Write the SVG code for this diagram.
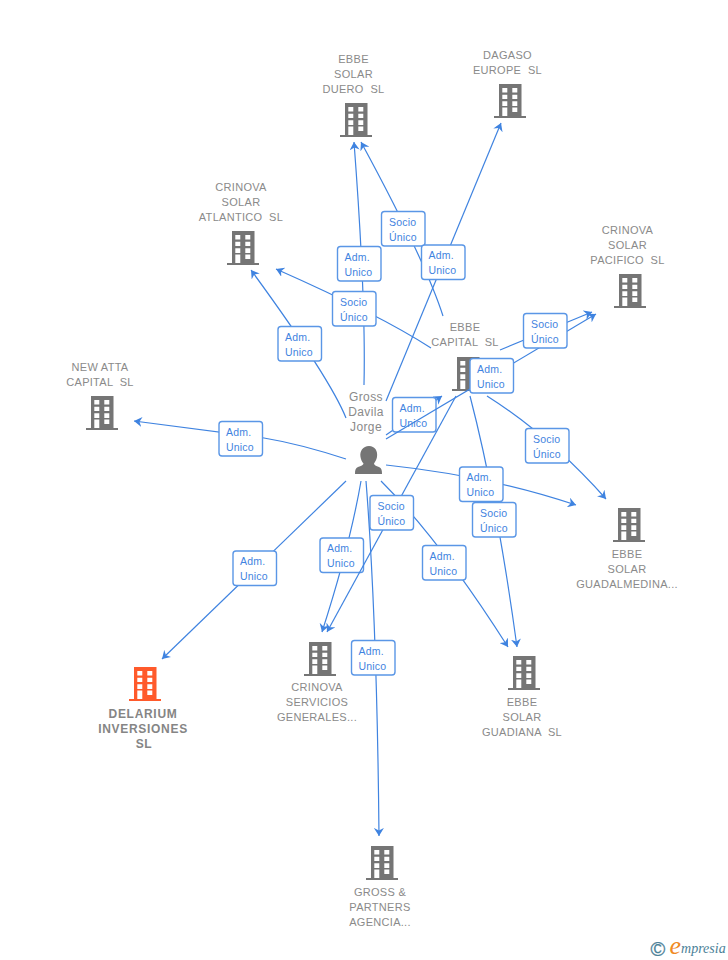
<svg xmlns="http://www.w3.org/2000/svg" width="728" height="960" viewBox="0 0 728 960">
<style>
text{font-family:"Liberation Sans",Arial,sans-serif;white-space:pre}
.n{font-size:11px;fill:#8a8a8a;text-anchor:middle;letter-spacing:.3px}
.b{font-weight:bold;font-size:12px;fill:#858585;letter-spacing:.7px}
.p{font-size:12px;letter-spacing:.4px}
.l{fill:none;stroke:#3f83e0;stroke-width:1.2;marker-end:url(#a)}
.t{fill:#fff;stroke:#5a96e6;stroke-width:1.4}
.x{font-size:10.5px;fill:#3f83e0;letter-spacing:.2px}
</style>
<defs>
<marker id="a" markerUnits="userSpaceOnUse" markerWidth="8" markerHeight="10" refX="8" refY="5" orient="auto" viewBox="0 0 8 10"><path d="M0,0L8,5L0,10L2.500,5z" fill="#3f83e0"/></marker>
<path id="i" fill-rule="evenodd" d="M5,0H27.5V32H32V34H0V32H5ZM8.3,4V8.5H13.3V4ZM18.3,4V8.5H23.3V4ZM8.3,10.7V15H13.3V10.7ZM18.3,10.7V15H23.3V10.7ZM8.3,17.3V22H13.3V17.3ZM18.3,17.3V22H23.3V17.3ZM8.3,23.5V32H13.3V23.5ZM18.3,23.5V28H23.3V23.5Z"/>
</defs>
<g id="n-duero" fill="#757575"><text class="n" x="353.500" y="63">EBBE</text><text class="n" x="353.500" y="78">SOLAR</text><text class="n" x="353.500" y="93">DUERO  SL</text><use href="#i" x="340" y="103"/></g>
<g id="n-dagaso" fill="#757575"><text class="n" x="507.500" y="59">DAGASO</text><text class="n" x="507.500" y="74">EUROPE  SL</text><use href="#i" x="494" y="84"/></g>
<g id="n-atlantico" fill="#757575"><text class="n" x="241" y="191">CRINOVA</text><text class="n" x="241" y="206">SOLAR</text><text class="n" x="241" y="221">ATLANTICO  SL</text><use href="#i" x="227" y="231"/></g>
<g id="n-pacifico" fill="#757575"><text class="n" x="627.500" y="234">CRINOVA</text><text class="n" x="627.500" y="249">SOLAR</text><text class="n" x="627.500" y="264">PACIFICO  SL</text><use href="#i" x="614" y="274"/></g>
<g id="n-capital" fill="#757575"><text class="n" x="465" y="331">EBBE</text><text class="n" x="465" y="346">CAPITAL  SL</text><use href="#i" x="452" y="357"/></g>
<g id="n-newatta" fill="#757575"><text class="n" x="100" y="371">NEW ATTA</text><text class="n" x="100" y="386">CAPITAL  SL</text><use href="#i" x="86" y="396"/></g>
<g id="n-guadalmedina" fill="#757575"><use href="#i" x="613" y="508"/><text class="n" x="627" y="558">EBBE</text><text class="n" x="627" y="573">SOLAR</text><text class="n" x="627" y="588">GUADALMEDINA...</text></g>
<g id="n-delarium" fill="#ff5a2b"><use href="#i" x="129" y="667"/><text class="n b" x="143" y="718">DELARIUM</text><text class="n b" x="143" y="733">INVERSIONES</text><text class="n b" x="144" y="748">SL</text></g>
<g id="n-servicios" fill="#757575"><use href="#i" x="304" y="642"/><text class="n" x="317" y="691">CRINOVA</text><text class="n" x="317" y="706">SERVICIOS</text><text class="n" x="317" y="721">GENERALES...</text></g>
<g id="n-guadiana" fill="#757575"><use href="#i" x="508" y="656"/><text class="n" x="522" y="706">EBBE</text><text class="n" x="522" y="721">SOLAR</text><text class="n" x="522" y="736">GUADIANA  SL</text></g>
<g id="n-partners" fill="#757575"><use href="#i" x="366" y="846"/><text class="n" x="380" y="896">GROSS &amp;</text><text class="n" x="380" y="911">PARTNERS</text><text class="n" x="380" y="926">AGENCIA...</text></g>
<g id="n-gross"><text class="n p" x="366" y="401">Gross</text><text class="n p" x="366" y="416">Davila</text><text class="n p" x="366" y="431">Jorge</text><path fill="#757575" d="M369,446C375,446 378,451 377,457C376.500,460 375,462 374,463.500C374,465 376,466 379,467C381.500,468 382,470 382,474H355C355,470 355.500,468 358,467C361,466 363.500,465 363.500,463.500C362,462 361,460 360.500,457C359.500,451 363,446 369,446Z"/></g>
<g id="connectors">
<path class="l" d="M346,459Q300,444 264,438L134,421"/>
<rect class="t" x="219" y="421.500" width="43.500" height="34.500" rx="3"/><text class="x" x="226" y="435.500">Adm.</text><text class="x" x="226" y="450.500">Unico</text>
<path class="l" d="M346,418Q330,378 251,270"/>
<rect class="t" x="278" y="326.500" width="43.500" height="34.500" rx="3"/><text class="x" x="285" y="340.500">Adm.</text><text class="x" x="285" y="355.500">Unico</text>
<path class="l" d="M364,385Q366,300 354,142"/>
<rect class="t" x="337.500" y="246.500" width="43.500" height="34.500" rx="3"/><text class="x" x="344.500" y="260.500">Adm.</text><text class="x" x="344.500" y="275.500">Unico</text>
<path class="l" d="M443,316Q425,260 361,142"/>
<rect class="t" x="381.500" y="211.500" width="43.500" height="34.500" rx="3"/><text class="x" x="389" y="225.500">Socio</text><text class="x" x="389" y="240.500">Único</text>
<path class="l" d="M386,401L501,123"/>
<rect class="t" x="421.500" y="245" width="43.500" height="34.500" rx="3"/><text class="x" x="428.500" y="259">Adm.</text><text class="x" x="428.500" y="274">Unico</text>
<path class="l" d="M431,348Q380,315 276,269"/>
<rect class="t" x="332.500" y="291.500" width="43.500" height="34.500" rx="3"/><text class="x" x="340" y="305.500">Socio</text><text class="x" x="340" y="320.500">Único</text>
<path class="l" d="M386,435L442,396"/>
<rect class="t" x="392.500" y="397.500" width="43.500" height="34.500" rx="3"/><text class="x" x="399.500" y="411.500">Adm.</text><text class="x" x="399.500" y="426.500">Unico</text>
<path class="l" d="M500,350L592,312"/>
<path class="l" d="M386,439L596,314"/>
<rect class="t" x="523.500" y="313.500" width="43.500" height="34.500" rx="3"/><text class="x" x="531" y="327.500">Socio</text><text class="x" x="531" y="342.500">Único</text>
<rect class="t" x="470" y="358.500" width="43.500" height="34.500" rx="3"/><text class="x" x="477" y="372.500">Adm.</text><text class="x" x="477" y="387.500">Unico</text>
<path class="l" d="M487,396Q550,436 606,499"/>
<rect class="t" x="525.500" y="428.500" width="43.500" height="34.500" rx="3"/><text class="x" x="533" y="442.500">Socio</text><text class="x" x="533" y="457.500">Único</text>
<path class="l" d="M386,465Q490,476 576,505"/>
<path class="l" d="M470,396Q497,500 517,647"/>
<rect class="t" x="459.500" y="467" width="43.500" height="34.500" rx="3"/><text class="x" x="466.500" y="481">Adm.</text><text class="x" x="466.500" y="496">Unico</text>
<rect class="t" x="472.500" y="502.500" width="43.500" height="34.500" rx="3"/><text class="x" x="480" y="516.500">Socio</text><text class="x" x="480" y="531.500">Único</text>
<path class="l" d="M381,481Q440,540 508,647"/>
<rect class="t" x="422.500" y="545.500" width="43.500" height="34.500" rx="3"/><text class="x" x="429.500" y="559.500">Adm.</text><text class="x" x="429.500" y="574.500">Unico</text>
<path class="l" d="M361,481Q350,545 322,632"/>
<rect class="t" x="320" y="538" width="43.500" height="34.500" rx="3"/><text class="x" x="327" y="552">Adm.</text><text class="x" x="327" y="567">Unico</text>
<path class="l" d="M456,396L327,632"/>
<rect class="t" x="370" y="495.500" width="43.500" height="34.500" rx="3"/><text class="x" x="377.500" y="509.500">Socio</text><text class="x" x="377.500" y="524.500">Único</text>
<path class="l" d="M366,481Q377,620 379,836"/>
<rect class="t" x="351.500" y="640.500" width="43.500" height="34.500" rx="3"/><text class="x" x="358.500" y="654.500">Adm.</text><text class="x" x="358.500" y="669.500">Unico</text>
<path class="l" d="M346,481L162,659"/>
<rect class="t" x="233" y="551" width="43.500" height="34.500" rx="3"/><text class="x" x="240" y="565">Adm.</text><text class="x" x="240" y="580">Unico</text>
</g>
<g id="logo"><text x="650.500" y="956" font-size="20" fill="#4b8198" stroke="#4b8198" stroke-width=".3">©</text><text x="669.500" y="954" font-style="italic" style="font-family:'Liberation Serif',serif"><tspan font-size="26" fill="#f08a24">e</tspan><tspan font-size="14" fill="#4b8198" dy="-1">mpresia</tspan></text></g>
</svg>
